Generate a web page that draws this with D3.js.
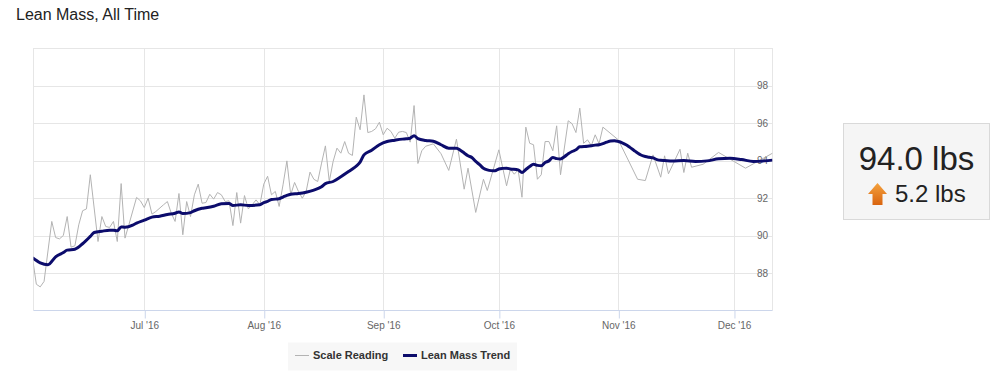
<html>
<head>
<meta charset="utf-8">
<script src="https://cdn.jsdelivr.net/npm/d3@7"></script>
<style>
  body { margin: 0; background: #fff; font-family: "Liberation Sans", Arial, sans-serif; }
  .axis-label { font-size: 10px; fill: #666; }
</style>
</head>
<body>
<div id="chart"></div>
<script>

// days counted from 2016-06-02
let startDate = new Date(2016, 5, 2);

let scaleDays = [0,1,2,3,5,6,7,8,9,10,11,12,13,14,15,17,18,19,20,21,22,23,24,25,27,28,29,30,31,32,34,35,36,37,38,39,40,41,42,43,44,45,46,47,48,49,50,51,52,53,54,55,56,57,58,59,60,61,62,63,64,65,66,67,68,69,70,71,72,73,74,75,76,77,78,79,80,81,82,83,84,85,86,87,88,89,90,91,92,93,94,95,96,97,98,99,100,101,102,104,106,108,110,112,113,115,117,118,121,123,124,125,126,127,128,129,130,131,132,133,134,135,136,137,139,140,141,142,143,144,145,146,147,148,152,157,159,161,163,164,165,168,169,170,171,174,178,185,192];
let scaleValues = [88.79,87.40,87.26,87.55,90.75,89.89,89.82,90.00,91.01,89.38,89.45,90.57,91.32,91.42,93.24,89.68,91.01,90.48,90.43,90.75,89.68,92.77,89.86,90.57,92.03,91.85,91.49,91.99,91.14,91.28,91.64,91.81,91.19,90.75,92.24,90.04,91.81,91.01,92.17,92.74,91.72,91.76,92.20,91.94,92.29,92.17,91.81,91.85,90.53,92.29,90.66,92.13,91.42,91.64,91.90,91.64,92.74,93.16,92.17,92.35,91.55,92.70,93.98,92.17,92.83,92.35,91.99,92.35,93.38,93.00,92.88,93.86,94.78,92.88,93.95,94.66,94.39,95.01,94.39,94.27,96.31,95.64,97.50,95.49,95.55,95.69,96.04,95.37,95.72,95.55,95.19,95.51,95.55,95.49,94.98,96.93,93.84,94.52,94.76,94.89,94.36,93.47,95.14,92.47,93.59,91.23,93.00,92.40,94.57,92.65,93.54,93.27,93.50,92.04,95.78,94.92,94.84,93.00,93.24,95.01,95.01,94.52,95.85,93.24,96.12,95.96,95.49,96.79,94.92,95.10,94.80,95.37,94.89,95.78,95.10,93.00,92.93,94.30,93.11,94.25,93.29,94.60,93.36,94.39,93.64,93.80,94.43,93.59,94.39];

let trendDays = [0,2,4,6,8,9,11,13,15,16,18,20,21,22,23,24,26,27,29,31,33,35,37,38,39,41,42,44,45,47,49,51,52,54,56,59,60,61,62,64,65,66,67,69,71,73,75,76,78,80,82,83,84,85,86,88,90,92,94,96,97,98,99,100,102,104,106,108,110,111,112,113,114,115,116,117,118,119,120,121,122,123,124,126,127,128,129,130,131,132,133,134,135,136,137,138,139,140,141,142,144,146,147,148,149,150,151,152,153,154,155,156,157,158,159,160,161,162,163,164,166,169,172,175,178,181,184,187,190,192];
let trendValues = [88.81,88.54,88.44,88.86,89.09,89.22,89.27,89.56,89.95,90.16,90.23,90.28,90.28,90.25,90.46,90.44,90.55,90.66,90.82,90.98,91.03,91.12,91.19,91.26,91.17,91.22,91.32,91.45,91.48,91.56,91.69,91.71,91.60,91.64,91.60,91.64,91.75,91.82,91.92,91.96,92.05,92.14,92.20,92.24,92.31,92.42,92.60,92.77,92.88,93.13,93.41,93.55,93.70,93.91,94.30,94.55,94.84,95.01,95.08,95.14,95.16,95.19,95.32,95.17,95.07,95.03,94.84,94.66,94.66,94.55,94.40,94.25,94.16,93.95,93.78,93.59,93.50,93.46,93.45,93.55,93.58,93.59,93.55,93.50,93.36,93.52,93.68,93.80,93.74,93.72,93.89,93.98,94.16,94.10,94.08,94.20,94.36,94.48,94.57,94.73,94.76,94.82,94.84,94.90,94.98,95.04,95.05,95.01,94.94,94.84,94.70,94.55,94.40,94.28,94.21,94.17,94.14,94.05,94.01,94.00,93.98,94.00,93.95,93.98,94.09,94.12,94.05,93.95,93.98,94.02];

let yTicks = [88, 90, 92, 94, 96, 98];
let monthTicks = ['2016-07-01', '2016-08-01', '2016-09-01', '2016-10-01', '2016-11-01', '2016-12-01'];
let legendLabels = ['Scale Reading', 'Lean Mass Trend'];
let currentValue = '94.0 lbs';
let changeValue = '5.2 lbs';

let width = 999;
let height = 373;
let plotLeft = 33.5, plotRight = 772.5, plotTop = 48, plotBottom = 310.5;

let svg = d3.select('#chart')
    .append('svg')
    .attr('width', width)
    .attr('height', height);

let x = d3.scaleTime()
    .domain([startDate, d3.timeDay.offset(startDate, 192)])
    .range([32.5, 772.5]);

let y = d3.scaleLinear()
    .domain([86, 100])
    .range([plotBottom, plotTop]);

let parseDay = d3.timeParse('%Y-%m-%d');
let months = monthTicks.map(parseDay);

svg.append('text')
    .attr('x', 16)
    .attr('y', 20)
    .attr('font-size', 16)
    .attr('fill', '#222')
    .text('Lean Mass, All Time');

// grid
let grid = svg.append('g').attr('class', 'grid');
grid.selectAll('.hgrid')
    .data(yTicks.concat([100]))
    .enter().append('line')
    .attr('x1', plotLeft).attr('x2', plotRight)
    .attr('y1', d => Math.round(y(d)) + 0.5)
    .attr('y2', d => Math.round(y(d)) + 0.5)
    .attr('stroke', '#e6e6e6');
grid.selectAll('.vgrid')
    .data(months)
    .enter().append('line')
    .attr('x1', d => Math.round(x(d)) + 0.5)
    .attr('x2', d => Math.round(x(d)) + 0.5)
    .attr('y1', plotTop).attr('y2', plotBottom)
    .attr('stroke', '#e6e6e6');
grid.append('line')
    .attr('x1', plotLeft).attr('x2', plotLeft)
    .attr('y1', plotTop).attr('y2', plotBottom)
    .attr('stroke', '#e6e6e6');
grid.append('line')
    .attr('x1', plotRight).attr('x2', plotRight)
    .attr('y1', plotTop).attr('y2', plotBottom)
    .attr('stroke', '#e6e6e6');

// x axis
let xAxis = svg.append('g')
    .attr('transform', 'translate(0,' + plotBottom + ')')
    .call(d3.axisBottom(x)
        .tickValues(months)
        .tickFormat(d3.timeFormat("%b '%y"))
        .tickSizeOuter(0)
        .tickSize(8)
        .tickPadding(3));
xAxis.select('.domain').attr('stroke', '#ccd6eb').attr('d', 'M' + plotLeft + ',0H' + plotRight);
xAxis.selectAll('.tick line').attr('stroke', '#ccd6eb').attr('transform', 'translate(0.5,0)');
xAxis.selectAll('.tick text')
    .attr('class', 'axis-label')
    .attr('font-family', '"Liberation Sans", Arial, sans-serif');

// y labels, drawn inside the plot on the right
svg.selectAll('.ylab')
    .data(yTicks)
    .enter().append('text')
    .attr('class', 'axis-label')
    .attr('x', 768)
    .attr('y', d => y(d))
    .attr('dy', '0.35em')
    .attr('text-anchor', 'end')
    .text(d => d);

let clip = svg.append('clipPath').attr('id', 'plot-clip')
    .append('rect')
    .attr('x', plotLeft).attr('y', plotTop - 5)
    .attr('width', plotRight - plotLeft).attr('height', plotBottom - plotTop + 5);

let scaleData = scaleDays.map((d, i) => [d3.timeDay.offset(startDate, d), scaleValues[i]]);
let trendData = trendDays.map((d, i) => [d3.timeDay.offset(startDate, d), trendValues[i]]);

let line = d3.line()
    .x(d => x(d[0]))
    .y(d => y(d[1]));

let lines = svg.append('g').attr('clip-path', 'url(#plot-clip)');
lines.append('path')
    .datum(scaleData)
    .attr('d', line)
    .attr('fill', 'none')
    .attr('stroke', '#b3b3b3')
    .attr('stroke-width', 1);
lines.append('path')
    .datum(trendData)
    .attr('d', line.curve(d3.curveMonotoneX))
    .attr('fill', 'none')
    .attr('stroke', '#0c0c6c')
    .attr('stroke-width', 3)
    .attr('stroke-linejoin', 'round');

// legend
let legend = svg.append('g');
legend.append('rect')
    .attr('x', 288).attr('y', 342.5)
    .attr('width', 229).attr('height', 28)
    .attr('fill', '#f7f7f7');
let legendColors = ['#b3b3b3', '#0c0c6c'];
let legendWidths = [1, 3];
let legendX = [295, 403];
legend.selectAll('.swatch')
    .data(legendLabels)
    .enter().append('line')
    .attr('x1', (d, i) => legendX[i]).attr('x2', (d, i) => legendX[i] + 14)
    .attr('y1', 355.5).attr('y2', 355.5)
    .attr('stroke', (d, i) => legendColors[i])
    .attr('stroke-width', (d, i) => legendWidths[i]);
legend.selectAll('.ltext')
    .data(legendLabels)
    .enter().append('text')
    .attr('x', (d, i) => legendX[i] + 18)
    .attr('y', 359)
    .attr('font-size', 11)
    .attr('font-weight', 'bold')
    .attr('fill', '#333')
    .text(d => d);

// summary box
let box = svg.append('g');
let defs = svg.append('defs');
let grad = defs.append('linearGradient')
    .attr('id', 'arrow-grad')
    .attr('x1', 0).attr('y1', 0).attr('x2', 0).attr('y2', 1);
grad.append('stop').attr('offset', '0%').attr('stop-color', '#f4a23e');
grad.append('stop').attr('offset', '100%').attr('stop-color', '#d9640f');

box.append('rect')
    .attr('x', 843.5).attr('y', 123.5)
    .attr('width', 146).attr('height', 96)
    .attr('fill', '#f5f5f5')
    .attr('stroke', '#d9d9d9');
box.append('text')
    .attr('x', 916.5).attr('y', 169.5)
    .attr('text-anchor', 'middle')
    .attr('font-size', 33)
    .attr('fill', '#222')
    .text(currentValue);
box.append('path')
    .attr('d', 'M877.5,183 L887,194 L882.5,194 L882.5,205 L872.5,205 L872.5,194 L868,194 Z')
    .attr('fill', 'url(#arrow-grad)');
box.append('text')
    .attr('x', 895).attr('y', 201.5)
    .attr('font-size', 24)
    .attr('fill', '#222')
    .text(changeValue);

</script>
</body>
</html>
